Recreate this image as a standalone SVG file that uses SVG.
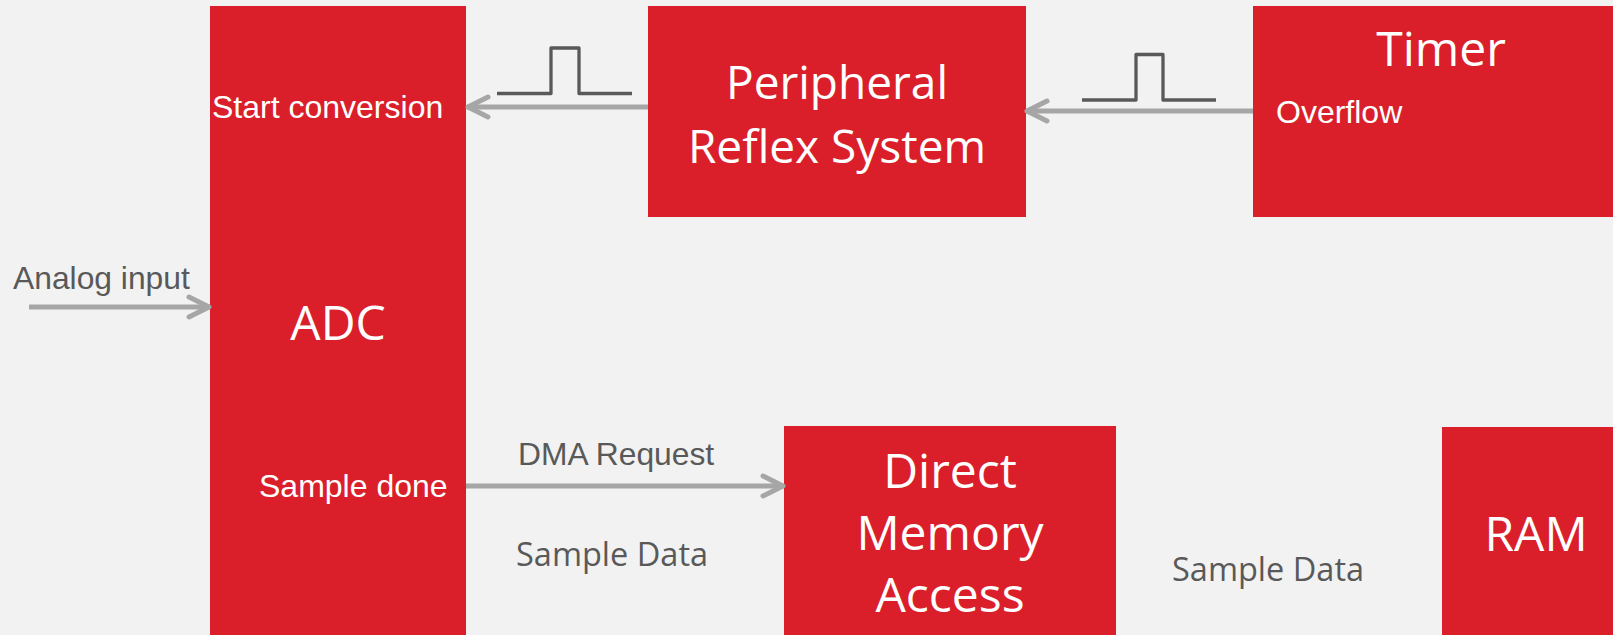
<svg xmlns="http://www.w3.org/2000/svg" width="1613" height="635" viewBox="0 0 1613 635">
  <style>
    .box { fill: #DA1F2B; }
    .title { font-family: "Open Sans", "Noto Sans", sans-serif; font-size: 48px; fill: #FFFFFF; text-anchor: middle; }
    .prs { font-size: 46px; }
    .wlabel { font-family: "Liberation Sans", Arial, sans-serif; font-size: 32px; fill: #FFFFFF; }
    .glabel { font-family: "Liberation Sans", Arial, sans-serif; font-size: 31.8px; fill: #595959; }
    .slabel { font-family: "Open Sans", "Noto Sans", sans-serif; font-size: 32.5px; fill: #595959; }
    .conn { stroke: #A6A6A6; stroke-width: 5; fill: none; }
    .pulse { stroke: #595959; stroke-width: 3.3; fill: none; stroke-linejoin: round; }
  </style>
  <defs>
    <marker id="arr" viewBox="-30 -15 35 30" refX="0" refY="0" markerWidth="35" markerHeight="30" markerUnits="userSpaceOnUse" orient="auto">
      <path d="M-21,-10 L-1,0 L-21,10" fill="none" stroke="#A6A6A6" stroke-width="5" stroke-linecap="round" stroke-linejoin="round"/>
    </marker>
  </defs>
  <rect x="0" y="0" width="1613" height="635" fill="#F2F2F2"/>

  <g id="adc">
    <rect class="box" x="210" y="6" width="256" height="640"/>
    <text class="title" x="338" y="340">ADC</text>
    <text class="wlabel" x="212" y="118">Start conversion</text>
    <text class="wlabel" x="259" y="497">Sample done</text>
  </g>

  <g id="prs">
    <rect class="box" x="648" y="6" width="378" height="211"/>
    <text class="title prs" x="837" y="99">Peripheral</text>
    <text class="title prs" x="837" y="163">Reflex System</text>
  </g>

  <g id="timer">
    <rect class="box" x="1253" y="6" width="400" height="211"/>
    <text class="title" x="1441" y="66">Timer</text>
    <text class="wlabel" x="1276" y="123">Overflow</text>
  </g>

  <g id="dma">
    <rect class="box" x="784" y="426" width="332" height="220"/>
    <text class="title" x="950" y="488">Direct</text>
    <text class="title" x="950" y="550">Memory</text>
    <text class="title" x="950" y="612">Access</text>
  </g>

  <g id="ram">
    <rect class="box" x="1442" y="427" width="200" height="220"/>
    <text class="title" x="1536" y="551">RAM</text>
  </g>

  <g id="connectors">
    <line class="conn" x1="29" y1="307" x2="210" y2="307" marker-end="url(#arr)"/>
    <line class="conn" x1="648" y1="107" x2="467" y2="107" marker-end="url(#arr)"/>
    <line class="conn" x1="1253" y1="111" x2="1026" y2="111" marker-end="url(#arr)"/>
    <line class="conn" x1="466" y1="486" x2="784" y2="486" marker-end="url(#arr)"/>
    <polyline class="pulse" points="497,93.5 551,93.5 551,48 579,48 579,93.5 632,93.5"/>
    <polyline class="pulse" points="1082,100 1136,100 1136,54.5 1163,54.5 1163,100 1216,100"/>
  </g>

  <g id="labels">
    <text class="glabel" x="13" y="289">Analog input</text>
    <text class="glabel" x="518" y="465">DMA Request</text>
    <text class="slabel" x="516" y="566">Sample Data</text>
    <text class="slabel" x="1172" y="581">Sample Data</text>
  </g>
</svg>
